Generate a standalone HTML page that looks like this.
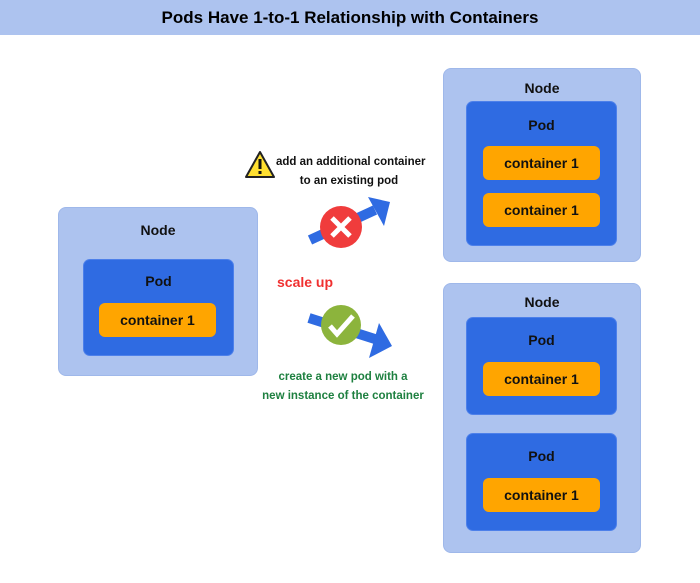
<!DOCTYPE html>
<html><head><meta charset="utf-8"><style>
body{margin:0;width:700px;height:583px;background:#fff;position:relative;overflow:hidden;font-family:"Comic Sans MS","Liberation Sans",sans-serif}
.b{position:absolute;box-sizing:border-box;border-radius:8px}
.n{background:#adc3ef;border:1.5px solid #9fb8ea}
.p{background:#2f6be2;border:1.5px solid #4d80ea;border-radius:7px}
.c{background:#ffa500;border-radius:6px;display:flex;align-items:center;justify-content:center;font-size:14px;font-weight:bold;color:#111}
.t{position:absolute;font-size:14px;font-weight:bold;color:#111;text-align:center;white-space:nowrap}
</style></head><body>
<div style="position:absolute;left:0;top:0;width:700px;height:35px;background:#adc3ef;text-align:center;line-height:35px;font-size:17px;font-weight:bold;color:#000">Pods Have 1-to-1 Relationship with Containers</div>

<div class="b n" style="left:58px;top:207px;width:200px;height:169px"></div>
<div class="t" style="left:58px;top:222px;width:200px">Node</div>
<div class="b p" style="left:83px;top:259px;width:151px;height:97px"></div>
<div class="t" style="left:83px;top:273px;width:151px">Pod</div>
<div class="b c" style="left:99px;top:303px;width:117px;height:34px">container 1</div>

<div class="b n" style="left:443px;top:68px;width:198px;height:194px"></div>
<div class="t" style="left:443px;top:80px;width:198px">Node</div>
<div class="b p" style="left:466px;top:101px;width:151px;height:145px"></div>
<div class="t" style="left:466px;top:117px;width:151px">Pod</div>
<div class="b c" style="left:483px;top:146px;width:117px;height:34px">container 1</div>
<div class="b c" style="left:483px;top:193px;width:117px;height:34px">container 1</div>

<div class="b n" style="left:443px;top:283px;width:198px;height:270px"></div>
<div class="t" style="left:443px;top:294px;width:198px">Node</div>
<div class="b p" style="left:466px;top:317px;width:151px;height:98px"></div>
<div class="t" style="left:466px;top:332px;width:151px">Pod</div>
<div class="b c" style="left:483px;top:362px;width:117px;height:34px">container 1</div>
<div class="b p" style="left:466px;top:433px;width:151px;height:98px"></div>
<div class="t" style="left:466px;top:448px;width:151px">Pod</div>
<div class="b c" style="left:483px;top:478px;width:117px;height:34px">container 1</div>

<div class="t" style="left:276px;top:153px;width:146px;font-size:11.5px;text-align:center;line-height:19px">add an additional container<br>to an existing pod</div>
<div class="t" style="left:277px;top:274px;font-size:14px;color:#f03030">scale up</div>
<div class="t" style="left:258px;top:368px;width:170px;font-size:11.5px;color:#1e8040;line-height:19px">create a new pod with a<br>new instance of the container</div>

<svg width="700" height="583" style="position:absolute;left:0;top:0">
<polygon points="246,177 260,152 274,177" fill="#ffe030" stroke="#222" stroke-width="2" stroke-linejoin="round"/>
<rect x="258.5" y="159" width="3" height="10" fill="#111"/><rect x="258.5" y="171" width="3" height="3" fill="#111"/>
<line x1="310" y1="240" x2="375" y2="210" stroke="#2f6be2" stroke-width="10"/>
<polygon points="368,197 390,202 384,226" fill="#2f6be2"/>
<circle cx="341" cy="227" r="21" fill="#f03c3c"/>
<path d="M332,218 L350,236 M350,218 L332,236" stroke="#fff" stroke-width="5"/>
<line x1="309" y1="318" x2="378" y2="340" stroke="#2f6be2" stroke-width="10"/>
<polygon points="379,323 392,346 369,358" fill="#2f6be2"/>
<circle cx="341" cy="325" r="20" fill="#8cb43c"/>
<path d="M330,326 L337,334 L353,316" stroke="#fff" stroke-width="5" fill="none"/>
</svg>
</body></html>
